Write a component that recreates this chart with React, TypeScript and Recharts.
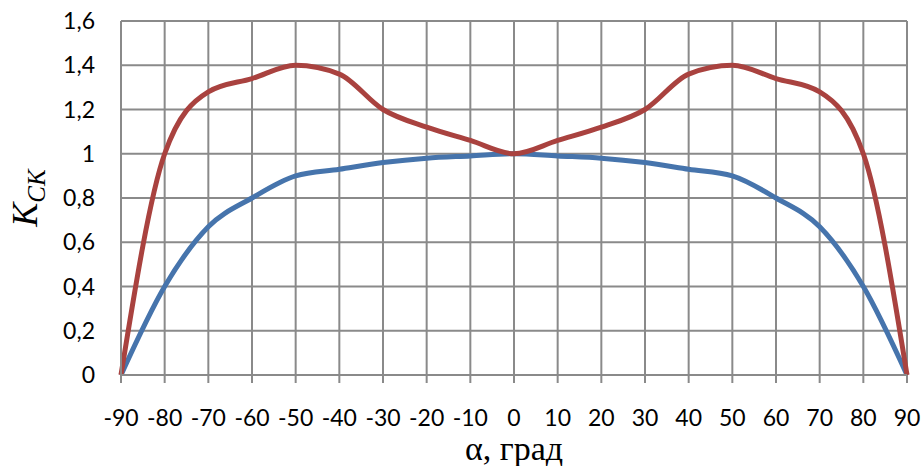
import { LineChart, Line, XAxis, YAxis, CartesianGrid, Label } from "recharts";

const angles = [-90, -80, -70, -60, -50, -40, -30, -20, -10, 0, 10, 20, 30, 40, 50, 60, 70, 80, 90];
const kRed = [0, 1.0, 1.28, 1.34, 1.4, 1.36, 1.2, 1.12, 1.06, 1.0, 1.06, 1.12, 1.2, 1.36, 1.4, 1.34, 1.28, 1.0, 0];
const kBlue = [0, 0.4, 0.67, 0.8, 0.9, 0.93, 0.96, 0.98, 0.99, 1.0, 0.99, 0.98, 0.96, 0.93, 0.9, 0.8, 0.67, 0.4, 0];
const xTicks = angles;
const yTicks = [0, 0.2, 0.4, 0.6, 0.8, 1, 1.2, 1.4, 1.6];

const data = angles.map((a, i) => ({ angle: a, red: kRed[i], blue: kBlue[i] }));

const gridColor = "#8a8a8a";
const tickStyle = { fill: "#000", fontSize: 23, fontFamily: "Lato, sans-serif" };

const XTitle = ({ viewBox }: any) => {
  const { x, y, width } = viewBox;
  return (
    <text
      x={x + width / 2}
      y={y + 85}
      textAnchor="middle"
      fontFamily="'Liberation Serif', serif"
      fontSize={34}
      fill="#000"
    >
      α, град
    </text>
  );
};

const YTitle = ({ viewBox }: any) => {
  const cx = 37;
  const cy = viewBox.y + viewBox.height / 2;
  return (
    <text
      x={cx}
      y={cy}
      transform={`rotate(-90, ${cx}, ${cy})`}
      textAnchor="middle"
      fontFamily="'Liberation Serif', serif"
      fontStyle="italic"
      fill="#000"
    >
      <tspan fontSize={36}>K</tspan>
      <tspan fontSize={25} dy={8}>
        CK
      </tspan>
    </text>
  );
};

export default function App() {
  return (
    <div style={{ position: "absolute", left: 0, top: 0, background: "#fff" }}>
      <LineChart
        width={923}
        height={466}
        data={data}
        margin={{ top: 21, right: 16, bottom: 0, left: 0 }}
      >
        <CartesianGrid stroke={gridColor} strokeWidth={2} />
        <XAxis
          dataKey="angle"
          type="number"
          domain={[-90, 90]}
          ticks={xTicks}
          height={91}
          tick={tickStyle}
          tickSize={8}
          tickMargin={27}
          axisLine={{ stroke: gridColor, strokeWidth: 2 }}
          tickLine={{ stroke: gridColor, strokeWidth: 2 }}
        >
          <Label content={<XTitle />} />
        </XAxis>
        <YAxis
          type="number"
          domain={[0, 1.6]}
          ticks={yTicks}
          width={121}
          tick={tickStyle}
          tickSize={0}
          tickMargin={26}
          tickLine={false}
          axisLine={{ stroke: gridColor, strokeWidth: 2 }}
          tickFormatter={(v: number) => String(v).replace(".", ",")}
        >
          <Label content={<YTitle />} />
        </YAxis>
        <Line
          type="monotone"
          dataKey="blue"
          stroke="#4674ac"
          strokeWidth={5}
          dot={false}
          isAnimationActive={false}
        />
        <Line
          type="monotone"
          dataKey="red"
          stroke="#a9423f"
          strokeWidth={5}
          dot={false}
          isAnimationActive={false}
        />
      </LineChart>
    </div>
  );
}
